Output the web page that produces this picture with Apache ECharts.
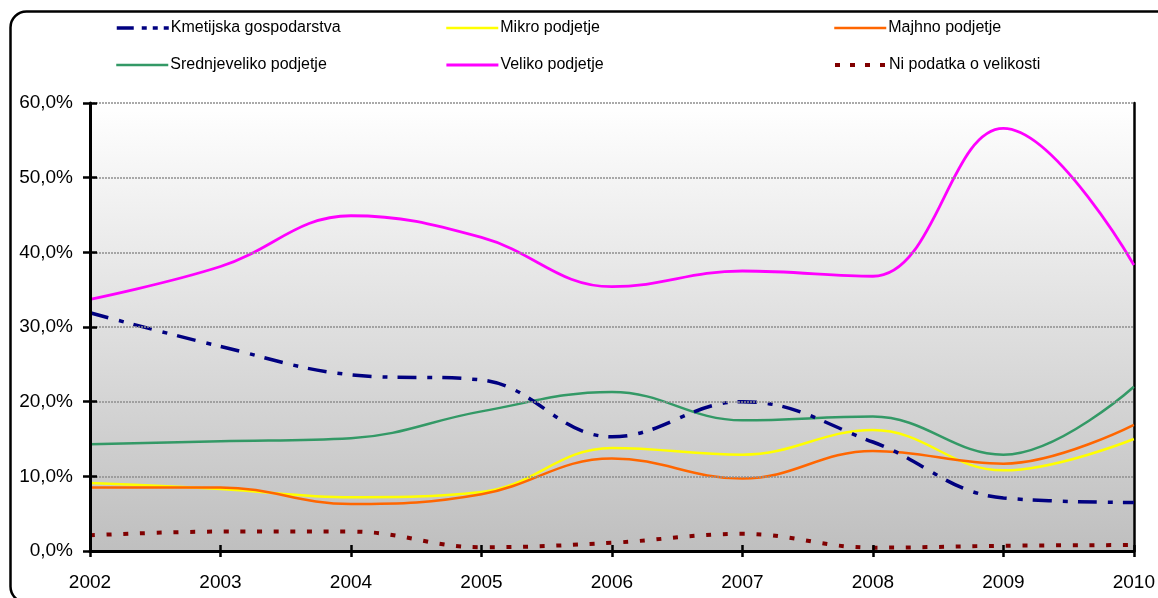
<!DOCTYPE html>
<html>
<head>
<meta charset="utf-8">
<script src="https://cdn.jsdelivr.net/npm/echarts@6/dist/echarts.min.js"></script>
<style>
html,body{margin:0;padding:0;background:#fff;}
#c{width:1158px;height:598px;}
</style>
</head>
<body>
<div id="c"></div>
<script>
var years = ['2002','2003','2004','2005','2006','2007','2008','2009','2010'];
var kmetijska = [31.9, 27.4, 23.6, 22.9, 15.3, 20.0, 14.6, 7.1, 6.5];
var mikro = [9.1, 8.3, 7.2, 7.9, 13.8, 12.9, 16.2, 10.8, 15.0];
var majhno = [8.5, 8.5, 6.3, 7.6, 12.4, 9.7, 13.4, 11.7, 16.9];
var srednje = [14.3, 14.7, 15.1, 18.7, 21.3, 17.5, 18.0, 12.9, 22.0];
var veliko = [33.7, 38.1, 44.9, 42.0, 35.4, 37.5, 36.8, 56.6, 38.3];
var nipodatka = [2.1, 2.6, 2.6, 0.5, 1.1, 2.3, 0.45, 0.7, 0.8];
var names = ['Kmetijska gospodarstva','Mikro podjetje','Majhno podjetje','Srednjeveliko podjetje','Veliko podjetje','Ni podatka o velikosti'];
var yTicks = {min: 0, max: 60, interval: 10};

var FONT = '"Liberation Sans", Arial, sans-serif';
var chart = echarts.init(document.getElementById('c'), null, {renderer: 'canvas'});

var colors = ['#000080', '#ffff00', '#ff6600', '#339966', '#ff00ff', '#800000'];
var widths = [3.5, 2.5, 2.5, 2.5, 2.8, 4];
var dashes = [[19, 11, 5, 10], 'solid', 'solid', 'solid', 'solid', [5, 11.7]];
var legendDashes = [[17, 8, 5, 6, 5, 6], 'solid', 'solid', 'solid', 'solid', [5, 10]];

var legendPos = [
  {left: 115, top: 20}, {left: 445, top: 20}, {left: 833, top: 20},
  {left: 115, top: 57}, {left: 445, top: 57}, {left: 833, top: 57}
];
var legends = names.map(function (n, i) {
  return {
    data: [n], left: legendPos[i].left, top: legendPos[i].top, padding: 0,
    itemWidth: 52, itemHeight: 14, selectedMode: false,
    itemStyle: {opacity: 0},
    lineStyle: {width: widths[i], type: legendDashes[i], color: colors[i], cap: 'butt'},
    textStyle: {fontFamily: FONT, fontSize: 16, color: '#000', padding: [0, 0, 0, -3]}
  };
});

function mk(i, data, z) {
  return {
    name: names[i], type: 'line', data: data, smooth: 0.4, symbol: 'none',
    xAxisIndex: 0, yAxisIndex: 0, z: z,
    lineStyle: {color: colors[i], width: widths[i], type: dashes[i], cap: 'butt'},
    itemStyle: {color: colors[i]}
  };
}

var option = {
  animation: false,
  backgroundColor: '#fff',
  legend: legends,
  grid: {
    left: 90, right: 19, top: 103, bottom: 47, show: true, borderWidth: 0,
    backgroundColor: {type: 'linear', x: 0, y: 0, x2: 0, y2: 1,
      colorStops: [{offset: 0, color: '#ffffff'}, {offset: 1, color: '#bfbfbf'}]}
  },
  xAxis: [
    {type: 'category', data: years, boundaryGap: false, position: 'bottom',
     axisLine: {lineStyle: {color: '#000', width: 3}},
     axisTick: {show: true, inside: false, length: 6, lineStyle: {color: '#000', width: 2.5}},
     axisLabel: {fontFamily: FONT, fontSize: 19, color: '#000', margin: 22},
     splitLine: {show: false}, z: 5},
    {type: 'category', data: years, boundaryGap: false, position: 'bottom',
     axisLine: {show: false},
     axisTick: {show: true, inside: true, length: 6, lineStyle: {color: '#000', width: 2.5}},
     axisLabel: {show: false}, splitLine: {show: false}, z: 5},
    {type: 'category', data: years, boundaryGap: false, position: 'top',
     axisLine: {lineStyle: {color: '#444', width: 2, type: [2, 1]}},
     axisTick: {show: false}, axisLabel: {show: false}, splitLine: {show: false}}
  ],
  yAxis: [
    {type: 'value', min: yTicks.min, max: yTicks.max, interval: yTicks.interval, position: 'left',
     axisLine: {show: true, lineStyle: {color: '#000', width: 3}},
     axisTick: {show: true, inside: false, length: 7, lineStyle: {color: '#000', width: 2.5}},
     axisLabel: {fontFamily: FONT, fontSize: 19, color: '#000', margin: 17,
       formatter: function (v) { return v.toFixed(1).replace('.', ',') + '%'; }},
     splitLine: {show: true, lineStyle: {color: '#8f8f8f', width: 1.5, type: [2, 1]}}, z: 5},
    {type: 'value', min: yTicks.min, max: yTicks.max, interval: yTicks.interval, position: 'left',
     axisLine: {show: false},
     axisTick: {show: true, inside: true, length: 7, lineStyle: {color: '#000', width: 2.5}},
     axisLabel: {show: false}, splitLine: {show: false}, z: 5},
    {type: 'value', min: yTicks.min, max: yTicks.max, interval: yTicks.interval, position: 'right',
     axisLine: {show: true, lineStyle: {color: '#000', width: 2.5}},
     axisTick: {show: false}, axisLabel: {show: false}, splitLine: {show: false}}
  ],
  graphic: [{
    type: 'rect', left: 8, top: 9, z: -10, silent: true,
    shape: {width: 1162, height: 591, r: 16},
    style: {fill: 'none', stroke: '#000', lineWidth: 2.5}
  }],
  series: [
    mk(0, kmetijska, 3),
    mk(1, mikro, 2),
    mk(2, majhno, 2),
    mk(3, srednje, 2),
    mk(4, veliko, 2),
    mk(5, nipodatka, 3)
  ]
};
chart.setOption(option);
</script>
</body>
</html>
